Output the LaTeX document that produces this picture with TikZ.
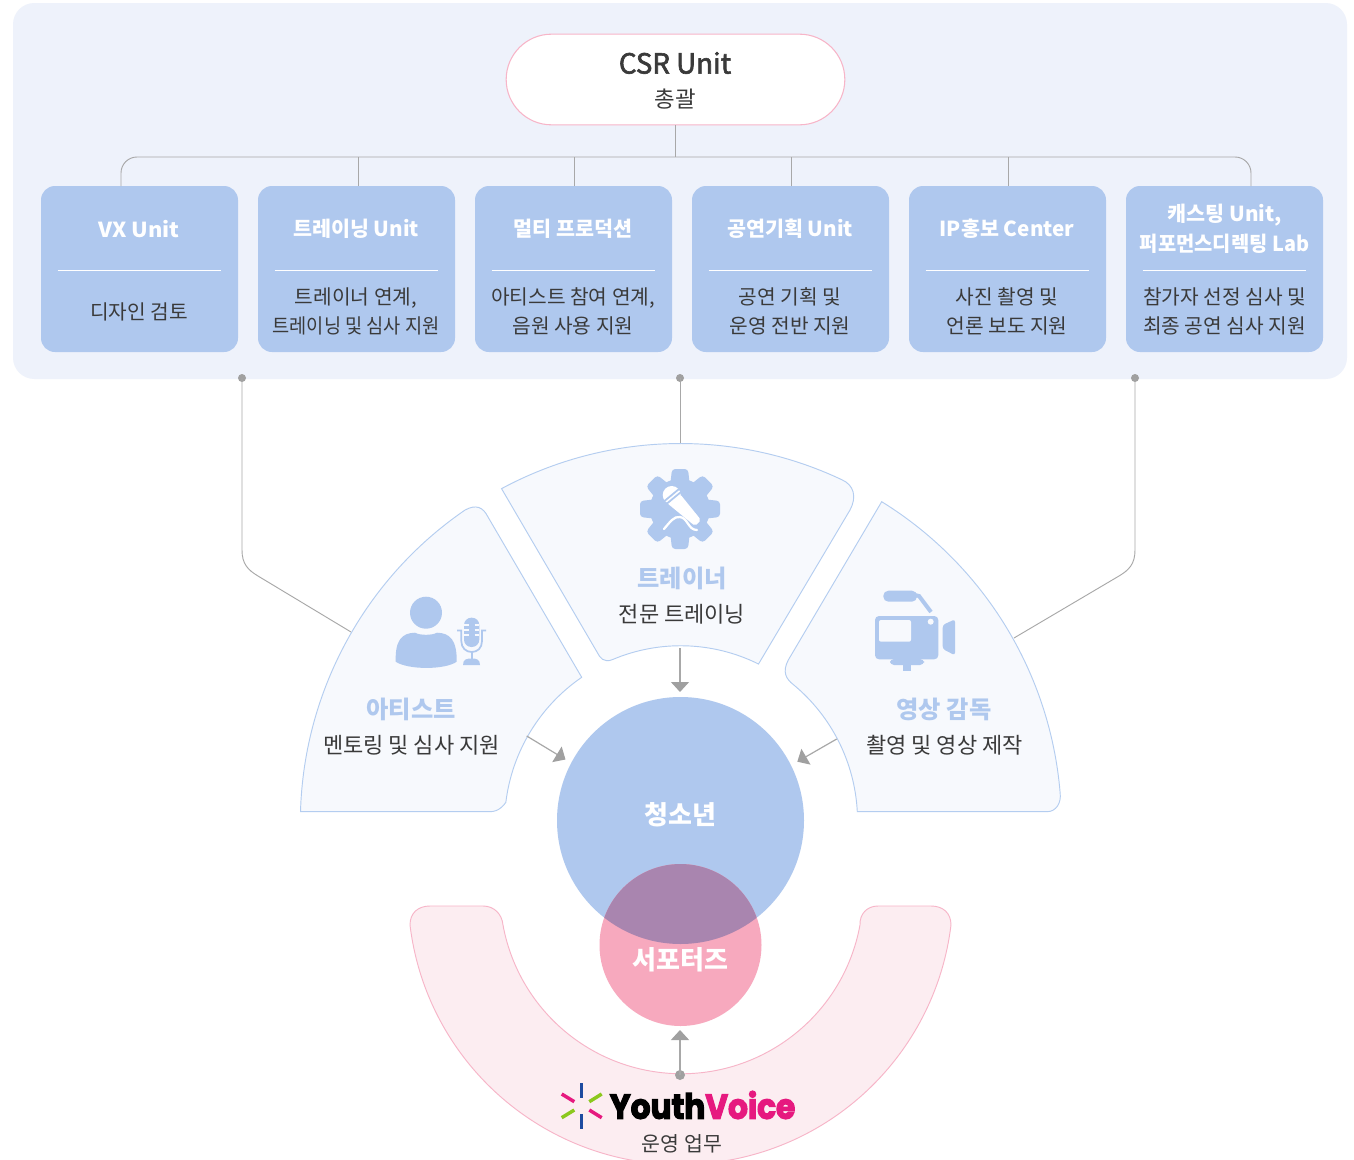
\documentclass[tikz,border=0pt]{standalone}
\usepackage{fontspec}
\setmainfont{Noto Sans CJK KR}
\newfontfamily\krmed[FakeBold=2.2]{Noto Sans CJK KR}
\newfontfamily\logofont[FakeBold=3.5]{Poppins Bold}
\usetikzlibrary{calc,arrows.meta,shapes.geometric}
\definecolor{panelbg}{HTML}{EEF2FB}
\definecolor{boxblue}{HTML}{AFC8EE}
\definecolor{sectorbg}{HTML}{F7F9FD}
\definecolor{sectorln}{HTML}{B4CDF0}
\definecolor{pinkbg}{HTML}{FCEDF1}
\definecolor{pinkln}{HTML}{F7B5C8}
\definecolor{pinkcirc}{HTML}{F7A9BE}
\definecolor{overlapc}{HTML}{A985AF}
\definecolor{linegray}{HTML}{A8A8A8}
\definecolor{tipgray}{HTML}{A0A0A0}
\definecolor{txtdark}{HTML}{3A3A3A}
\definecolor{logopink}{HTML}{E6197F}
\tikzset{
  unitbox/.style={fill=boxblue,rounded corners=10.5pt,minimum width=147.75pt,minimum height=124.5pt,inner sep=0pt,draw=none},
  unittitle/.style={text=white,font=\fontsize{15.5}{22.5}\selectfont\bfseries,align=center,inner sep=0pt},
  unitbody/.style={text=txtdark,font=\fontsize{15.2}{21.75}\selectfont,align=center,inner sep=0pt},
  sectorshape/.style={fill=sectorbg,draw=sectorln,line width=0.7pt},
  roletitle/.style={text=boxblue,font=\fontsize{18.2}{24}\selectfont\bfseries,inner sep=0pt},
  rolebody/.style={text=txtdark,font=\fontsize{16.5}{20}\selectfont,inner sep=0pt},
  conn/.style={draw=linegray,line width=0.7pt},
  flow/.style={draw=linegray,line width=0.9pt,-{Triangle[width=13.5pt,length=7.5pt,color=tipgray]}},
  dotn/.style={circle,fill=tipgray,inner sep=0pt,minimum size=6pt},
  icon/.style={fill=boxblue,draw=none},
  divider/.style={draw=white,line width=0.75pt},
}
\begin{document}
\begin{tikzpicture}[x=0.75pt,y=0.75pt]
\useasboundingbox (0,-1160) rectangle (1354,0);
\fill[white] (0,-1160) rectangle (1354,0);
\coordinate (C) at (680.5,-821);
\coordinate (P) at (680.5,-892);
% top panel
\node[fill=panelbg,rounded corners=16pt,minimum width=1000.5pt,minimum height=282pt,inner sep=0pt] (panel) at (680,-191) {};
% CSR pill
\node[fill=white,draw=pinkln,line width=0.8pt,rounded corners=34pt,minimum width=254pt,minimum height=68pt,inner sep=0pt] (csr) at (675.5,-79.5) {};
\node[text=txtdark,font=\fontsize{20.8}{24}\krmed,inner sep=0pt] (csrt) at (675,-63) {CSR Unit};
\node[text=txtdark,font=\fontsize{16.8}{20}\selectfont,inner sep=0pt] (csrb) at (675,-99) {총괄};
% unit boxes
\node[unitbox] (b1) at (139.5,-269) {};
\node[unitbox] (b2) at (356.5,-269) {};
\node[unitbox] (b3) at (573.5,-269) {};
\node[unitbox] (b4) at (790.5,-269) {};
\node[unitbox] (b5) at (1007.5,-269) {};
\node[unitbox] (b6) at (1224.5,-269) {};
% tree
\coordinate (tc) at (675.5,-157);
\coordinate (tl) at (121,-157);
\coordinate (tr) at (1251,-157);
\coordinate (d1) at (121,-186);
\coordinate (d2) at (358,-186);
\coordinate (d3) at (574,-186);
\coordinate (d4) at (791,-186);
\coordinate (d5) at (1008,-186);
\coordinate (d6) at (1251,-186);
\draw[conn,rounded corners=12pt] (d1) -- (tl) -- (tr) -- (d6);
\draw[conn] (csr.south) -- (tc);
\draw[conn] (d2) -- (d2|-tc);
\draw[conn] (d3) -- (d3|-tc);
\draw[conn] (d4) -- (d4|-tc);
\draw[conn] (d5) -- (d5|-tc);
% dividers
\foreach \n in {b1,b2,b3,b4,b5,b6}{
  \draw[divider] ($(\n.west)+(17,-1)$) -- ($(\n.east)+(-17,-1)$);
}
% unit texts
\node[unittitle] (t1) at (139,-229) {\scalebox{1.06}[1]{VX Unit}};
\node[unittitle] (t2) at (356,-229) {트레이닝 Unit};
\node[unittitle] (t3) at (573,-229) {멀티 프로덕션};
\node[unittitle] (t4) at (790,-229) {공연기획 Unit};
\node[unittitle] (t5) at (1007,-229) {IP홍보 Center};
\node[unittitle] (t6) at (1224.5,-229) {캐스팅 Unit,\\\scalebox{0.96}[1]{퍼포먼스디렉팅 Lab}};
\node[unitbody] (c1) at (139,-311.5) {디자인 검토};
\node[unitbody] (c2) at (356,-311.5) {트레이너 연계,\\\scalebox{0.92}[1]{트레이닝 및 심사 지원}};
\node[unitbody] (c3) at (573,-311.5) {아티스트 참여 연계,\\음원 사용 지원};
\node[unitbody] (c4) at (790,-311.5) {공연 기획 및\\운영 전반 지원};
\node[unitbody] (c5) at (1007,-311.5) {사진 촬영 및\\언론 보도 지원};
\node[unitbody] (c6) at (1224.5,-311.5) {참가자 선정 심사 및\\최종 공연 심사 지원};
% connector dots
\node[dotn] (dl) at (242,-378) {};
\node[dotn] (dm) at (680,-378) {};
\node[dotn] (dr) at (1135,-378) {};
\coordinate (ml) at (351,-632);
\coordinate (mr) at (1014,-638);
\coordinate (mm) at (680,-446);
\draw[conn] (dl.center) -- (242,-550) .. controls (242,-564) and (248,-570) .. (258,-576) -- (ml);
\draw[conn] (dr.center) -- (1135,-550) .. controls (1135,-564) and (1129,-570) .. (1119,-576) -- (mr);
\draw[conn] (dm.center) -- (mm);
% pink arc
\begin{scope}
\clip (0,-1160) rectangle (1354,0);
\path[fill=pinkbg,draw=pinkln,line width=0.7pt]
  (410,-925) arc[start angle=186.95,end angle=353.05,radius=272.5]
  .. controls (951,-913) and (943,-906) .. (931,-906) -- (878,-906)
  .. controls (867,-906) and (859.5,-914) .. (860,-925)
  arc[start angle=349.6,end angle=190.4,radius=181.5]
  .. controls (502,-914) and (494,-906) .. (483,-906) -- (430,-906)
  .. controls (418,-906) and (410,-913) .. (410,-925) -- cycle;
\end{scope}
% sectors
\path[sectorshape] ($(C)+(118.3:377.5)$) arc[start angle=118.3,end angle=64.7,radius=377.5]
  .. controls (854,-485) and (857,-497) .. (850,-510) -- (758.5,-664)
  arc[start angle=63.6,end angle=113,radius=175]
  .. controls (604,-663) and (600,-658) .. (597,-652) -- cycle;
\path[sectorshape] (300.5,-811.7) arc[start angle=178.35,end angle=124.45,radius=379]
  .. controls (476,-504) and (483,-507) .. (488,-517) -- (581.7,-677.3)
  arc[start angle=124.5,end angle=173,radius=178]
  .. controls (504,-805) and (499,-811.7) .. (490,-811.7) -- cycle;
\path[sectorshape] (881.7,-501.7) arc[start angle=58.28,end angle=4.72,radius=379]
  .. controls (1061.5,-803) and (1056,-811.7) .. (1047,-811.7) -- (857.3,-811.7)
  arc[start angle=3,end angle=50.3,radius=177]
  .. controls (786,-679) and (782,-672) .. (788.3,-660) -- cycle;
% circles
\node[circle,fill=boxblue,minimum size=185.25pt,inner sep=0pt] (youth) at (680.5,-820.5) {};
\node[circle,fill=pinkcirc,minimum size=121.5pt,inner sep=0pt] (supp) at (680.5,-945) {};
\begin{scope}
\clip (680.5,-820.5) circle[radius=123.5];
\fill[overlapc] (680.5,-945) circle[radius=81];
\end{scope}
\node[text=white,font=\fontsize{19.5}{24}\selectfont\bfseries,inner sep=0pt] (youtht) at (680.5,-815) {청소년};
\node[text=white,font=\fontsize{19.5}{24}\selectfont\bfseries,inner sep=0pt] (suppt) at (680.5,-960) {서포터즈};
% flows
\coordinate (fa) at (680,-648);
\coordinate (fb) at (680,-692);
\draw[flow] (fa) -- (fb);
\coordinate (fc) at (526.7,-736);
\coordinate (fd) at (565.5,-759.5);
\draw[flow] (fc) -- (fd);
\coordinate (fe) at (836.7,-739);
\coordinate (ff) at (797.3,-761.7);
\draw[flow] (fe) -- (ff);
\node[dotn,minimum size=7.5pt] (dy) at (680,-1075) {};
\coordinate (fg) at (680,-1030);
\draw[flow] (dy.center) -- (fg);
% role texts
\node[roletitle] (r1) at (411,-709) {아티스트};
\node[rolebody] (r1b) at (411.5,-745) {멘토링 및 심사 지원};
\node[roletitle] (r2) at (682,-578) {트레이너};
\node[rolebody] (r2b) at (682,-614) {전문 트레이닝};
\node[roletitle] (r3) at (944,-709) {영상 감독};
\node[rolebody] (r3b) at (944.5,-745) {촬영 및 영상 제작};
% gear icon
\fill[icon] (680,-509) circle[radius=30];
\foreach \a in {0,45,...,315}{
  \fill[icon,rounded corners=2.5pt] ($(680,-509)+(\a:22)+(\a+90:10)$) -- ($(680,-509)+(\a:40)+(\a+90:8)$) -- ($(680,-509)+(\a:40)+(\a-90:8)$) -- ($(680,-509)+(\a:22)+(\a-90:10)$) -- cycle;
}
\fill[white] (671.7,-495) circle[radius=9];
\fill[white,rounded corners=1.5pt] (667,-503) -- (680,-494) -- (701,-520) -- (695,-526) -- cycle;
\draw[boxblue,line width=1.3pt] (664.5,-501) -- (679,-489);
\draw[boxblue,line width=1.3pt] (667,-503.5) -- (681,-492);
\draw[white,line width=1.7pt,line cap=round] (664,-529) .. controls (670,-522) and (674,-516) .. (680,-517) .. controls (688,-518) and (688,-530) .. (697,-530);
% person icon
\fill[icon] (426,-612.7) circle[radius=16];
\fill[icon] (395.7,-661.7) .. controls (395,-640) and (402,-633) .. (415,-632.7)
  .. controls (420,-635.5) and (432,-635.5) .. (437,-632.7)
  .. controls (450,-633) and (457,-640) .. (456.7,-661.7)
  .. controls (445,-670) and (408,-670) .. (395.7,-661.7) -- cycle;
\fill[icon,rounded corners=5.5pt] (464,-647) rectangle (479.3,-617.7);
\draw[sectorbg,line width=1.1pt] (464,-625) -- (469,-625) (474.5,-625) -- (479.3,-625);
\draw[sectorbg,line width=1.1pt] (464,-630) -- (469,-630) (474.5,-630) -- (479.3,-630);
\draw[sectorbg,line width=1.1pt] (464,-635) -- (469,-635) (474.5,-635) -- (479.3,-635);
\draw[boxblue,line width=1.3pt] (457,-630.5) -- (461.3,-630.5) -- (461.3,-641) .. controls (461.3,-648) and (466,-652) .. (471.7,-652) .. controls (477.5,-652) and (482,-648) .. (482,-641) -- (482,-630.5) -- (486,-630.5);
\draw[boxblue,line width=1.3pt] (471.7,-652) -- (471.7,-661);
\fill[icon] (463,-665) .. controls (463,-659) and (467,-658.5) .. (471.7,-658.5) .. controls (476,-658.5) and (480,-659) .. (480,-665) -- cycle;
% camera icon
\fill[icon,rounded corners=3pt] (875,-659.3) rectangle (938.3,-616);
\fill[sectorbg,rounded corners=1.5pt] (879,-641.7) rectangle (911,-620);
\fill[sectorbg] (930.7,-621.7) circle[radius=3];
\fill[icon,rounded corners=2pt] (942.7,-625) -- (955,-619.3) -- (955,-655.3) -- (942.7,-649) -- cycle;
\fill[icon,rounded corners=3.8pt] (883.3,-601.7) rectangle (917,-590.7);
\draw[boxblue,line width=3pt] (915,-595) -- (919,-596) -- (931,-612);
\fill[icon,rounded corners=3pt] (890,-659) -- (890,-665) -- (924,-665) -- (924,-659) -- cycle;
\fill[icon] (902.7,-665) rectangle (910.7,-671);
% logo rays
\coordinate (rn) at (581.7,-1106);
\draw[draw={rgb,255:red,30;green,75;blue,160},line width=2.6pt] (581.7,-1083) -- (581.7,-1098);
\draw[draw={rgb,255:red,30;green,75;blue,160},line width=2.6pt] (581.7,-1114) -- (581.7,-1129);
\draw[draw=logopink,line width=2.6pt] (561.7,-1094) -- (574.3,-1101.7);
\draw[draw=logopink,line width=2.6pt] (589.3,-1110) -- (601.7,-1117.7);
\draw[draw={rgb,255:red,140;green,200;blue,30},line width=2.6pt] (589.3,-1101.7) -- (601.7,-1094);
\draw[draw={rgb,255:red,140;green,200;blue,30},line width=2.6pt] (561.7,-1117.7) -- (574.3,-1110);
\node[font=\fontsize{26}{28}\logofont,inner sep=0pt] (logo) at (702.5,-1105) {\scalebox{0.9}[1]{Youth\textcolor{logopink}{Voice}}};
\node[text=txtdark,font=\fontsize{15.4}{20}\selectfont,inner sep=0pt] (logob) at (682,-1144) {운영 업무};
\end{tikzpicture}
\end{document}
